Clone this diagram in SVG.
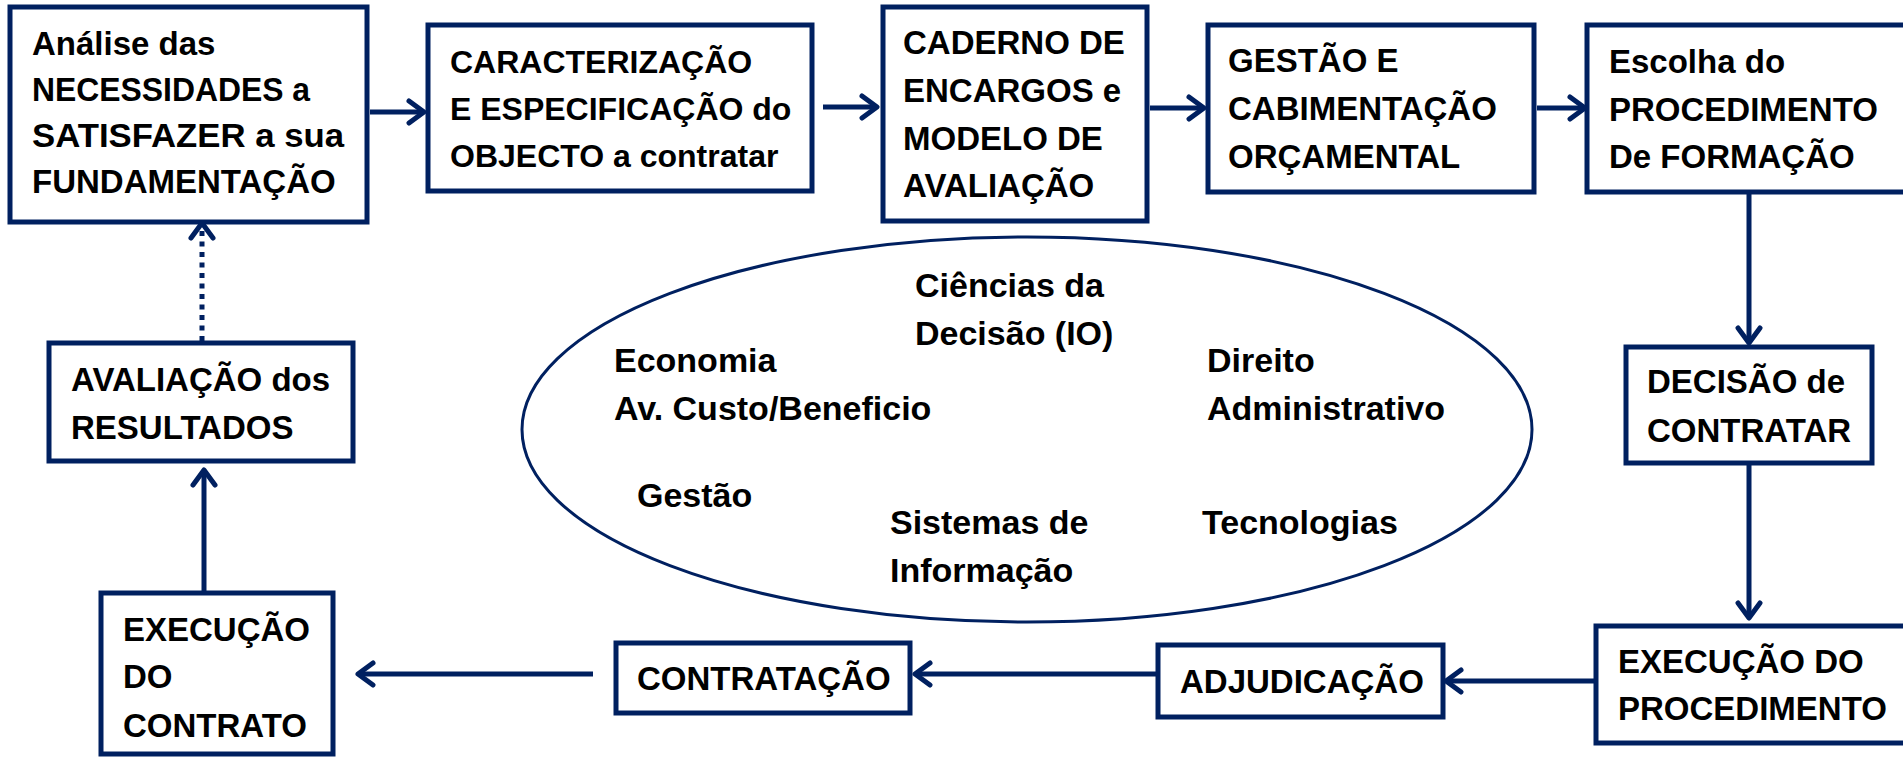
<svg xmlns="http://www.w3.org/2000/svg" width="1903" height="757" viewBox="0 0 1903 757">
<style>
.box{fill:#ffffff;stroke:#002060;stroke-width:5}
.t{font-family:"Liberation Sans",Arial,sans-serif;font-weight:bold;font-size:33px;fill:#000000}
.t2{font-size:32px}
.e{font-family:"Liberation Sans",Arial,sans-serif;font-weight:bold;font-size:34px;fill:#000000}
.c{fill:none;stroke:#002060;stroke-width:5}
.dot{stroke-dasharray:5 5.5}
</style>
<defs>
<marker id="arr" viewBox="-20 -14 24 28" refX="-3" refY="0" markerWidth="24" markerHeight="28" markerUnits="userSpaceOnUse" orient="auto">
<path d="M-15,-11 L0,0 L-15,11" fill="none" stroke="#002060" stroke-width="5" stroke-linecap="round" stroke-linejoin="round"/>
</marker>
</defs>
<rect width="1903" height="757" fill="#ffffff"/>

<g id="connectors">
<line class="c" x1="370" y1="112" x2="421" y2="112" marker-end="url(#arr)"/>
<line class="c" x1="823" y1="107" x2="874" y2="107" marker-end="url(#arr)"/>
<line class="c" x1="1150" y1="108" x2="1201" y2="108" marker-end="url(#arr)"/>
<line class="c" x1="1537" y1="108" x2="1582" y2="108" marker-end="url(#arr)"/>
<line class="c" x1="1749" y1="194" x2="1749" y2="340" marker-end="url(#arr)"/>
<line class="c" x1="1749" y1="465" x2="1749" y2="615" marker-end="url(#arr)"/>
<line class="c" x1="1594" y1="681" x2="1449" y2="681" marker-end="url(#arr)"/>
<line class="c" x1="1156" y1="674" x2="918" y2="674" marker-end="url(#arr)"/>
<line class="c" x1="593" y1="674" x2="361" y2="674" marker-end="url(#arr)"/>
<line class="c" x1="204" y1="591" x2="204" y2="473" marker-end="url(#arr)"/>
<line class="c dot" x1="202" y1="341" x2="202" y2="226" marker-end="url(#arr)"/>
</g>

<g id="analise">
<rect class="box" x="10" y="7" width="357" height="215"/>
<text class="t" x="32" y="55">Análise das</text>
<text class="t" x="32" y="101" textLength="278" lengthAdjust="spacingAndGlyphs">NECESSIDADES a</text>
<text class="t" x="32" y="147" textLength="312" lengthAdjust="spacingAndGlyphs">SATISFAZER a sua</text>
<text class="t" x="32" y="193">FUNDAMENTAÇÃO</text>
</g>

<g id="caracterizacao">
<rect class="box" x="428" y="25" width="384" height="166"/>
<text class="t t2" x="450" y="73">CARACTERIZAÇÃO</text>
<text class="t t2" x="450" y="120">E ESPECIFICAÇÃO do</text>
<text class="t t2" x="450" y="167">OBJECTO a contratar</text>
</g>

<g id="caderno">
<rect class="box" x="883" y="7" width="264" height="214"/>
<text class="t" x="903" y="54">CADERNO DE</text>
<text class="t" x="903" y="102">ENCARGOS e</text>
<text class="t" x="903" y="150">MODELO DE</text>
<text class="t" x="903" y="197">AVALIAÇÃO</text>
</g>

<g id="gestao">
<rect class="box" x="1208" y="25" width="326" height="167"/>
<text class="t" x="1228" y="72">GESTÃO E</text>
<text class="t" x="1228" y="120">CABIMENTAÇÃO</text>
<text class="t" x="1228" y="168">ORÇAMENTAL</text>
</g>

<g id="escolha">
<rect class="box" x="1587" y="25" width="330" height="167"/>
<text class="t" x="1609" y="73">Escolha do</text>
<text class="t" x="1609" y="121">PROCEDIMENTO</text>
<text class="t" x="1609" y="168">De FORMAÇÃO</text>
</g>

<g id="decisao">
<rect class="box" x="1626" y="347" width="246" height="116"/>
<text class="t" x="1647" y="393">DECISÃO de</text>
<text class="t" x="1647" y="442">CONTRATAR</text>
</g>

<g id="execucao-procedimento">
<rect class="box" x="1596" y="626" width="320" height="117"/>
<text class="t" x="1618" y="673">EXECUÇÃO DO</text>
<text class="t" x="1618" y="720">PROCEDIMENTO</text>
</g>

<g id="adjudicacao">
<rect class="box" x="1158" y="645" width="285" height="72"/>
<text class="t" x="1180" y="693">ADJUDICAÇÃO</text>
</g>

<g id="contratacao">
<rect class="box" x="616" y="643" width="294" height="70"/>
<text class="t" x="637" y="690">CONTRATAÇÃO</text>
</g>

<g id="execucao-contrato">
<rect class="box" x="101" y="593" width="232" height="161"/>
<text class="t" x="123" y="641">EXECUÇÃO</text>
<text class="t" x="123" y="688">DO</text>
<text class="t" x="123" y="737">CONTRATO</text>
</g>

<g id="avaliacao">
<rect class="box" x="49" y="343" width="304" height="118"/>
<text class="t" x="71" y="391">AVALIAÇÃO dos</text>
<text class="t" x="71" y="439">RESULTADOS</text>
</g>

<g id="disciplinas">
<ellipse cx="1027" cy="429.5" rx="505" ry="192.5" fill="none" stroke="#002060" stroke-width="3"/>
<text class="e" x="915" y="297">Ciências da</text>
<text class="e" x="915" y="345">Decisão (IO)</text>
<text class="e" x="614" y="372">Economia</text>
<text class="e" x="614" y="420">Av. Custo/Beneficio</text>
<text class="e" x="1207" y="372">Direito</text>
<text class="e" x="1207" y="420">Administrativo</text>
<text class="e" x="637" y="507">Gestão</text>
<text class="e" x="890" y="534">Sistemas de</text>
<text class="e" x="890" y="582">Informação</text>
<text class="e" x="1202" y="534">Tecnologias</text>
</g>
</svg>
